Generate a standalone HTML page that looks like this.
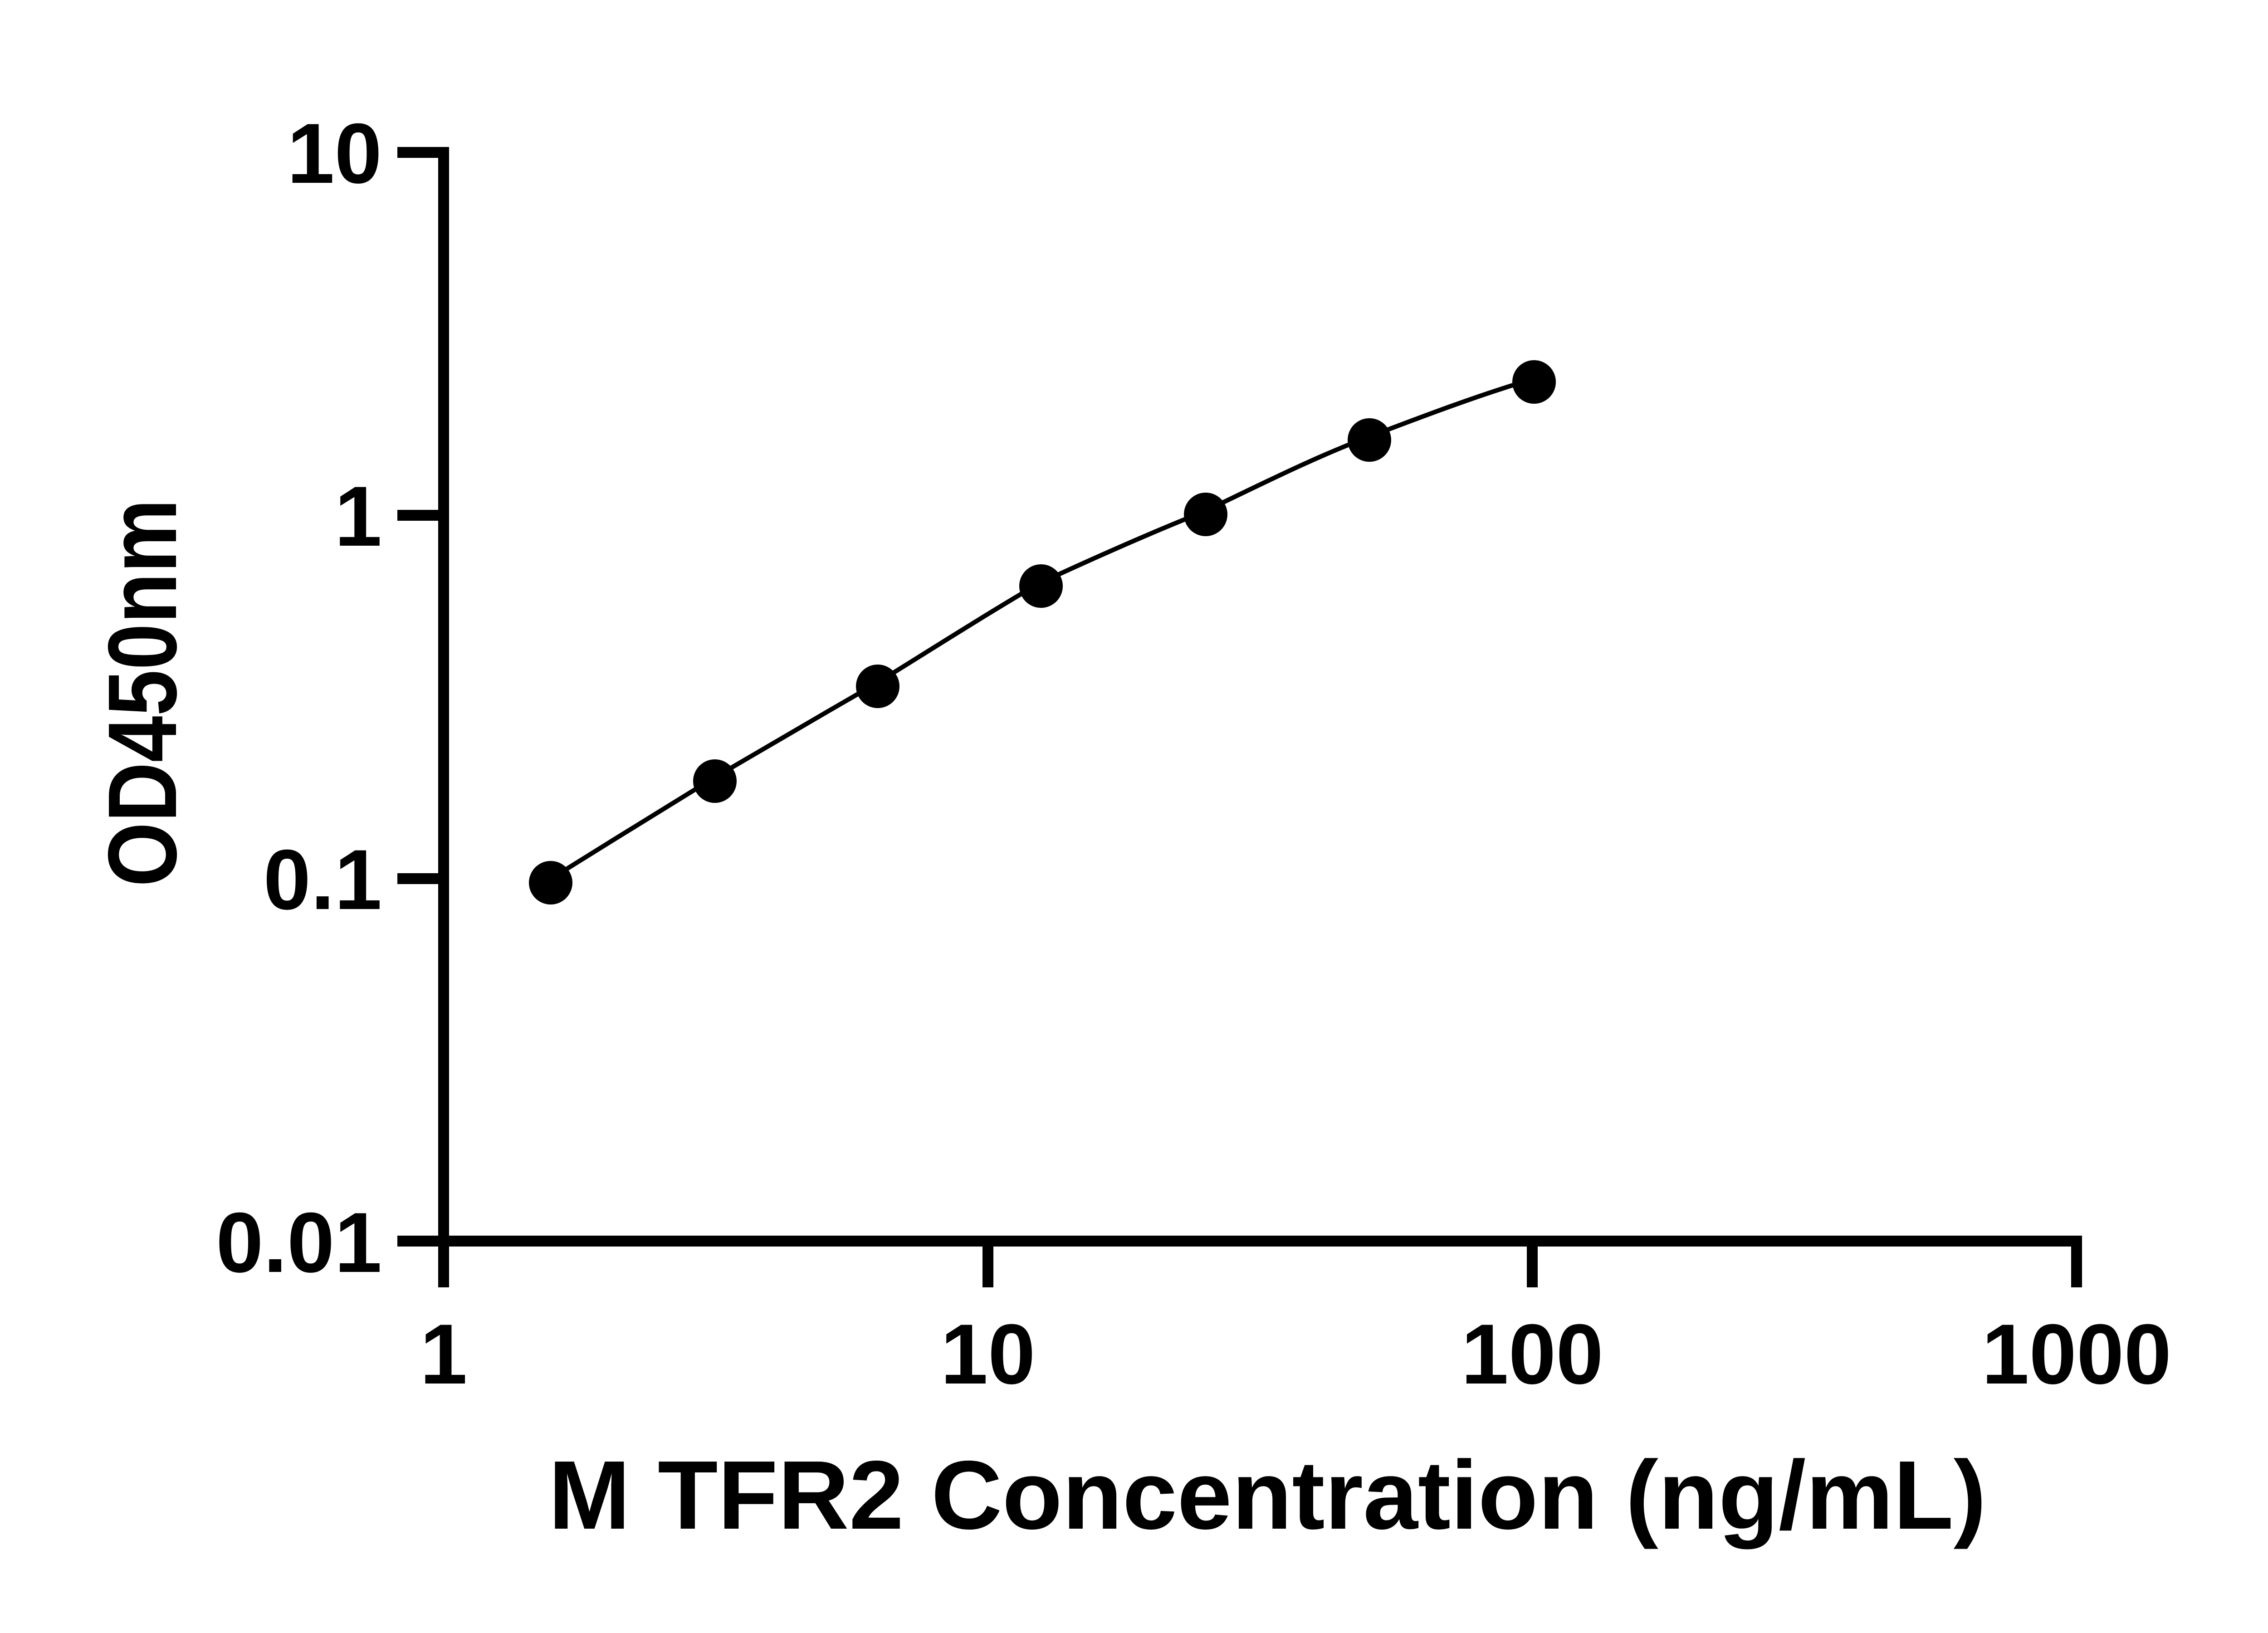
<!DOCTYPE html>
<html><head><meta charset="utf-8"><style>html,body{margin:0;padding:0;background:#fff}svg{display:block}</style></head>
<body>
<svg width="5130" height="3600" viewBox="0 0 5130 3600" xmlns="http://www.w3.org/2000/svg">
<rect width="5130" height="3600" fill="#fff"/>
<g stroke="#000" stroke-width="24" fill="none">
<line x1="978" y1="324" x2="978" y2="2748"/>
<line x1="876" y1="2736" x2="4590" y2="2736"/>
<line x1="876" y1="336" x2="978" y2="336"/>
<line x1="876" y1="1136" x2="978" y2="1136"/>
<line x1="876" y1="1937" x2="978" y2="1937"/>
<line x1="978" y1="2736" x2="978" y2="2838"/>
<line x1="2178" y1="2736" x2="2178" y2="2838"/>
<line x1="3378" y1="2736" x2="3378" y2="2838"/>
<line x1="4578" y1="2736" x2="4578" y2="2838"/>
</g>
<g font-family="Liberation Sans, sans-serif" font-weight="bold" font-size="188" fill="#000">
<text x="842" y="403" text-anchor="end">10</text>
<text x="842" y="1203" text-anchor="end">1</text>
<text x="842" y="2004" text-anchor="end">0.1</text>
<text x="842" y="2804" text-anchor="end">0.01</text>
<text x="978" y="3050" text-anchor="middle">1</text>
<text x="2178" y="3050" text-anchor="middle">10</text>
<text x="3378" y="3050" text-anchor="middle">100</text>
<text x="4578" y="3050" text-anchor="middle">1000</text>
</g>
<text x="1209" y="3370" font-family="Liberation Sans, sans-serif" font-weight="bold" font-size="215" textLength="3170" lengthAdjust="spacingAndGlyphs">M TFR2 Concentration (ng/mL)</text>
<text transform="translate(388,1955) rotate(-90)" font-family="Liberation Sans, sans-serif" font-weight="bold" font-size="215" textLength="855" lengthAdjust="spacingAndGlyphs">OD450nm</text>
<path d="M1210,1940 C1330,1865 1452,1790 1572,1716 C1692,1646 1811,1576 1931,1507 C2051,1433 2171,1356 2291,1286 C2412,1230 2533,1176 2654,1128 C2775,1070 2894,1010 3015,964 C3136,918 3257,872 3378,836" stroke="#000" stroke-width="10" fill="none"/>
<g fill="#000">
<circle cx="1214" cy="1946" r="48"/>
<circle cx="1576" cy="1722" r="48"/>
<circle cx="1935" cy="1513" r="48"/>
<circle cx="2295" cy="1292" r="48"/>
<circle cx="2658" cy="1134" r="48"/>
<circle cx="3019" cy="970" r="48"/>
<circle cx="3382" cy="842" r="48"/>
</g>
</svg>
</body></html>
